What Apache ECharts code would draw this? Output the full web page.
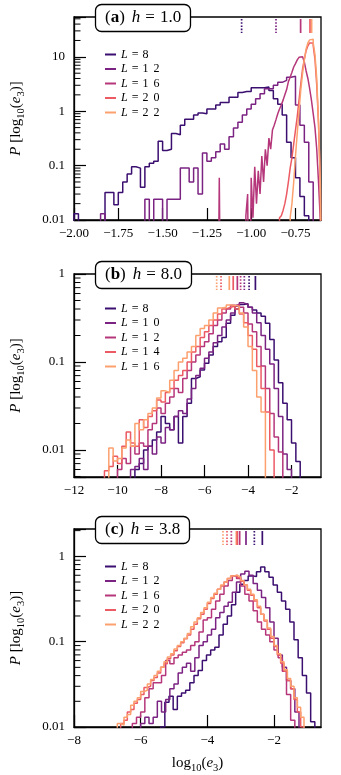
<!DOCTYPE html>
<html><head><meta charset="utf-8">
<script src="https://cdn.jsdelivr.net/npm/echarts@6/dist/echarts.min.js"></script>
<style>html,body{margin:0;padding:0;background:#fff}#c{width:341px;height:775px}</style>
</head><body><div id="c"></div>
<script>
// ---------------- DATA ----------------
// Panel (a) h = 1.0 : histogram of log10(e3); each series = bin start, bin width, bin heights
const aLabels = ['8', '12', '16', '20', '22'];
const aStart = [-2.0, -2.0, -1.19, -0.84, -0.78];
const aWidth = [0.025, 0.025, 0.01, 0.01, 0.01];
const aL8 = [0.013,0,0,0,0,0,0,0.032,0.032,0.019,0.032,0.05,0.07,0.095,0.09,0.04,0.095,0.11,0.12,0.28,0.19,0.2,0.39,0.37,0.55,0.71,0.71,0.85,0.93,0.9,1.1,1.1,1.3,1.45,1.45,1.8,1.8,2.2,2.3,2.3,2.7,2.7,2.7,2.8,2.4,1.7,1.35,0.85,0.27,0.14,0.06,0.027,0.012];
const aL12 = [0,0,0,0,0,0,0.013,0,0,0,0,0,0,0,0,0,0.024,0,0.024,0.024,0,0.024,0.024,0.024,0.09,0.09,0.05,0.09,0.03,0.17,0.12,0.14,0.18,0.25,0.2,0.34,0.49,0.63,0.85,1.1,1.35,1.7,2.1,2.6,2.6,3.0,3.4,3.7,4.2,4.4,1.3,0.55,0.27,0.05];
const aL16 = [0,0.06,0,0,0,0,0,0,0,0,0,0,0,0,0,0,0.012,0.03,0,0.06,0.011,0.095,0.02,0.08,0.03,0.15,0.05,0.2,0.1,0.32,0.2,0.45,0.55,0.7,0.9,1.1,1.3,1.6,2.0,2.5,3.5,4.2,5.2,6.5,7.5,8.8,9.8,10,9.5,8.0,5.5,4.0,2.6,1.6,0.9,0.5,0.2,0.05,0.01];
const aL20 = [0.011,0.012,0.015,0.02,0.03,0.05,0.09,0.14,0.25,0.45,0.8,1.6,3.2,6,9,13,16,18,18,16,9,3,0.6,0.05];
const aL22 = [0.011,0.02,0.05,0.15,0.4,1.0,2.5,5,9,14,18,20.5,21,18,11,4,0.6,0.05];
const aMarkX = [-1.054, -0.86, -0.721, -0.668, -0.659];
const aMarkSer = [0, 1, 2, 3, 4];
const aMarkDot = [1, 1, 0, 0, 0];

// Panel (b) h = 8.0
const bLabels = ['8', '10', '12', '14', '16'];
const bStart = [-9.2, -9.4, -10.0, -10.6, -10.4];
const bWidth = [0.2, 0.2, 0.2, 0.2, 0.2];
const bL8 = [0.006,0.007,0.01,0.011,0.013,0.016,0.024,0.02,0.017,0.024,0.012,0.024,0.034,0.065,0.068,0.081,0.097,0.12,0.15,0.17,0.19,0.275,0.34,0.4,0.45,0.46,0.42,0.39,0.36,0.33,0.275,0.18,0.105,0.058,0.034,0.022,0.012,0.0074];
const bL10 = [0.006,0.0065,0.008,0.006,0.011,0.009,0.014,0.012,0.018,0.017,0.024,0.028,0.026,0.038,0.05,0.07,0.085,0.11,0.13,0.165,0.2,0.25,0.3,0.36,0.43,0.47,0.45,0.42,0.36,0.28,0.2,0.14,0.095,0.05,0.024,0.009,0.006];
const bL12 = [0.006,0.008,0.007,0.011,0.009,0.012,0.011,0.017,0.02,0.03,0.026,0.034,0.04,0.05,0.045,0.065,0.08,0.1,0.12,0.15,0.17,0.21,0.26,0.3,0.36,0.4,0.44,0.45,0.42,0.36,0.27,0.22,0.15,0.09,0.05,0.026,0.014,0.0095];
const bL14 = [0.0058,0.0065,0.0085,0.007,0.011,0.016,0.012,0.011,0.022,0.018,0.024,0.028,0.037,0.035,0.045,0.05,0.062,0.07,0.08,0.1,0.13,0.15,0.19,0.22,0.26,0.3,0.35,0.4,0.42,0.43,0.4,0.35,0.28,0.2,0.14,0.089,0.05,0.027,0.01];
const bL16 = [0.0105,0.0075,0.008,0.0105,0.013,0.011,0.02,0.017,0.022,0.026,0.03,0.039,0.047,0.045,0.062,0.08,0.1,0.11,0.13,0.15,0.2,0.24,0.26,0.3,0.36,0.41,0.42,0.445,0.44,0.43,0.36,0.25,0.15,0.08,0.04,0.027];
const bMarkX = [-5.44, -5.24, -4.86, -4.68, -4.49, -4.34, -4.17, -3.95, -3.66];
const bMarkSer = [4, 3, 4, 3, 2, 2, 1, 0, 0];
const bMarkDot = [1, 1, 0, 0, 0, 1, 1, 1, 0];

// Panel (c) h = 3.8
const cLabels = ['8', '12', '16', '20', '22'];
const cStart = [-5.4, -6.0, -6.25, -6.7, -6.9];
const cWidth = [0.125, 0.125, 0.125, 0.1, 0.1];
const cL8 = [0.01,0.0195,0.023,0.016,0.023,0.025,0.027,0.033,0.04,0.046,0.06,0.07,0.08,0.086,0.12,0.16,0.2,0.27,0.38,0.47,0.52,0.59,0.58,0.66,0.75,0.66,0.57,0.46,0.38,0.3,0.24,0.17,0.105,0.065,0.04,0.025,0.0115];
const cL12 = [0.011,0.013,0.011,0.013,0.02,0.015,0.021,0.028,0.032,0.043,0.05,0.056,0.045,0.065,0.09,0.1,0.12,0.14,0.19,0.22,0.26,0.29,0.38,0.5,0.62,0.67,0.6,0.48,0.4,0.33,0.25,0.17,0.11,0.07,0.05,0.035,0.028,0.015];
const cL16 = [0.011,0.013,0.015,0.022,0.028,0.033,0.033,0.04,0.06,0.055,0.065,0.07,0.075,0.08,0.09,0.1,0.13,0.18,0.19,0.24,0.3,0.36,0.45,0.52,0.59,0.55,0.45,0.36,0.3,0.23,0.17,0.14,0.12,0.1,0.08,0.065,0.045,0.024,0.012];
const cL20 = [0.0095,0.011,0.012,0.015,0.016,0.019,0.021,0.024,0.029,0.03,0.035,0.038,0.043,0.05,0.055,0.063,0.07,0.078,0.088,0.097,0.108,0.12,0.14,0.16,0.185,0.21,0.24,0.28,0.32,0.36,0.41,0.45,0.5,0.55,0.59,0.6,0.56,0.51,0.46,0.4,0.35,0.3,0.25,0.21,0.175,0.14,0.11,0.088,0.07,0.056,0.045,0.035,0.028,0.021,0.015,0.01];
const cL22 = [0.009,0.0095,0.011,0.0105,0.013,0.014,0.018,0.02,0.022,0.026,0.027,0.032,0.036,0.04,0.045,0.05,0.058,0.066,0.072,0.082,0.09,0.1,0.11,0.125,0.15,0.17,0.19,0.22,0.25,0.29,0.33,0.37,0.41,0.46,0.5,0.55,0.59,0.6,0.57,0.52,0.46,0.41,0.36,0.31,0.26,0.21,0.18,0.145,0.115,0.09,0.072,0.058,0.047,0.037,0.03,0.022,0.017,0.013,0.009];
const cMarkX = [-3.53, -3.41, -3.28, -3.13, -3.1, -3.03, -2.84, -2.59, -2.35];
const cMarkSer = [4, 3, 2, 4, 3, 2, 1, 0, 0];
const cMarkDot = [1, 1, 1, 0, 0, 0, 0, 1, 0];

const yTickLabels = ['0.01', '0.1', '1', '10'];

// ---------------- STYLE / LAYOUT ----------------
const COLORS = ['#3b0f70', '#7b2382', '#b5367a', '#ec5a63', '#fca06e'];
const SERIF = "'Liberation Serif', 'DejaVu Serif', serif";
const EPS = 1e-5;

const panels = [
  {key: 'a', tag: 'a', h: '1.0', top: 17, xmin: -2, xmax: -0.606, xint: 0.25, xdec: 2, ymin: 0.01, ymax: 54,
   labels: aLabels, starts: aStart, widths: aWidth, vals: [aL8, aL12, aL16, aL20, aL22],
   markX: aMarkX, markSer: aMarkSer, markDot: aMarkDot, titleTop: 4, legendTop: 43.5},
  {key: 'b', tag: 'b', h: '8.0', top: 274, xmin: -12, xmax: -0.644, xint: 2, xdec: 0, ymin: 0.00493, ymax: 1,
   labels: bLabels, starts: bStart, widths: bWidth, vals: [bL8, bL10, bL12, bL14, bL16],
   markX: bMarkX, markSer: bMarkSer, markDot: bMarkDot, titleTop: 261, legendTop: 297.5},
  {key: 'c', tag: 'c', h: '3.8', top: 529, xmin: -8, xmax: -0.59, xint: 2, xdec: 0, ymin: 0.01, ymax: 2.09,
   labels: cLabels, starts: cStart, widths: cWidth, vals: [cL8, cL12, cL16, cL20, cL22],
   markX: cMarkX, markSer: cMarkSer, markDot: cMarkDot, titleTop: 516, legendTop: 555.5}
];

function hist(start, width, vals) {
  const pts = [[start, EPS]];
  vals.forEach((v, i) => pts.push([+(start + i * width).toFixed(6), v > 0 ? v : EPS]));
  const end = +(start + vals.length * width).toFixed(6);
  const last = vals[vals.length - 1];
  pts.push([end, last > 0 ? last : EPS]);
  pts.push([end, EPS]);
  return pts;
}
function minorTicks(lo, hi) {
  const out = [];
  for (let e = -4; e <= 3; e++) for (let m = 2; m <= 9; m++) {
    const v = m * Math.pow(10, e);
    if (v > lo * 1.0001 && v < hi * 0.9999) out.push(v);
  }
  return out;
}
function yLabel(v) {
  const l = Math.log10(v), r = Math.round(l);
  if (Math.abs(l - r) > 1e-6) return '';
  const idx = r + 2;
  return yTickLabels[idx] !== undefined ? yTickLabels[idx] : '';
}

const grids = [], xAxes = [], yAxes = [], series = [], legends = [], titles = [];
const nameRich = {
  n: {fontFamily: SERIF, fontSize: 15, lineHeight: 22, color: '#000'},
  i: {fontFamily: SERIF, fontSize: 15, fontStyle: 'italic', lineHeight: 22, color: '#000'},
  s: {fontFamily: SERIF, fontSize: 10.5, lineHeight: 22, verticalAlign: 'bottom', color: '#000'}
};

panels.forEach((p, k) => {
  grids.push({left: 74, top: p.top, width: 247, height: 203, show: true, borderColor: '#000', borderWidth: 1.3, backgroundColor: 'transparent'});
  const xmax = p.xmax, dec = p.xdec;
  xAxes.push({
    gridIndex: k, type: 'value', min: p.xmin, max: p.xmax, interval: p.xint,
    axisLine: {show: true, onZero: false, lineStyle: {color: '#000', width: 1.3}},
    axisTick: {show: true, inside: true, length: 12, lineStyle: {color: '#000', width: 1.2}},
    axisLabel: {margin: 7, color: '#000', fontFamily: SERIF, fontSize: 13, showMaxLabel: false,
      formatter: v => (v >= xmax - 1e-9) ? '' : ((v < -1e-9 ? '\u2212' : '') + Math.abs(v).toFixed(dec))},
    splitLine: {show: false},
    name: k === 2 ? '{n|log}{s|10}{n|(}{i|e}{s|3}{n|)}' : '',
    nameLocation: 'middle', nameGap: 25,
    nameTextStyle: {rich: nameRich, fontFamily: SERIF, fontSize: 15, color: '#000'}
  });
  yAxes.push({
    gridIndex: k, type: 'log', logBase: 10, min: p.ymin, max: p.ymax,
    axisLine: {show: true, onZero: false, lineStyle: {color: '#000', width: 1.3}},
    axisTick: {show: true, inside: true, length: 12, lineStyle: {color: '#000', width: 1.2}},
    minorTick: {show: false},
    axisLabel: {margin: 9, color: '#000', fontFamily: SERIF, fontSize: 13, formatter: yLabel, showMinLabel: true, showMaxLabel: true},
    splitLine: {show: false},
    name: '{i|P}{n| [log}{s|10}{n|(}{i|e}{s|3}{n|)]}',
    nameLocation: 'middle', nameRotate: 90, nameGap: 47,
    nameTextStyle: {rich: nameRich, fontFamily: SERIF, fontSize: 15, color: '#000'}
  });
  const names = [];
  p.vals.forEach((vals, j) => {
    const nm = p.key + p.labels[j];
    names.push(nm);
    series.push({
      type: 'line', name: nm, xAxisIndex: k, yAxisIndex: k, step: 'end', symbol: 'none',
      data: hist(p.starts[j], p.widths[j], vals),
      lineStyle: {color: COLORS[j], width: 1.5}, itemStyle: {color: COLORS[j]},
      animation: false, z: 2 + j * 0.01, clip: true
    });
  });
  // minor ticks at 2..9 x 10^n on the left axis
  series.push({
    type: 'custom', xAxisIndex: k, yAxisIndex: k, silent: true, animation: false, z: 5, clip: false,
    data: minorTicks(p.ymin, p.ymax).map(v => [p.xmin, v]),
    renderItem: (params, api) => {
      const pt = api.coord([api.value(0), api.value(1)]);
      return {type: 'line', shape: {x1: pt[0], y1: pt[1], x2: pt[0] + 6.5, y2: pt[1]}, style: {stroke: '#000', lineWidth: 1}};
    }
  });
  // short vertical markers at top of panel
  series.push({
    type: 'custom', xAxisIndex: k, yAxisIndex: k, silent: true, animation: false, z: 4, clip: false,
    data: p.markX.map((x, i) => [x, p.ymax, p.markSer[i], p.markDot[i]]),
    renderItem: (params, api) => {
      const pt = api.coord([api.value(0), api.value(1)]);
      const dotted = api.value(3) === 1;
      return {type: 'line', shape: {x1: pt[0], y1: pt[1] + 2, x2: pt[0], y2: pt[1] + 16},
        style: {stroke: COLORS[api.value(2)], lineWidth: 1.7, lineDash: dotted ? [1.6, 1.6] : null}};
    }
  });
  legends.push({
    left: 100, top: p.legendTop, orient: 'vertical', icon: 'rect', itemWidth: 11, itemHeight: 2, itemGap: 2.5,
    data: names, selectedMode: false,
    formatter: name => {
      const num = name.slice(1);
      let s = '{l|L}{e|=}{d|' + num[0] + '}';
      if (num.length > 1) s += '{d2|' + num.slice(1) + '}';
      return s;
    },
    textStyle: {rich: {
      l: {fontFamily: SERIF, fontStyle: 'italic', fontSize: 12, lineHeight: 11, color: '#000'},
      e: {fontFamily: SERIF, fontSize: 12, lineHeight: 11, padding: [0, 4, 0, 4], color: '#000'},
      d: {fontFamily: SERIF, fontSize: 12, lineHeight: 11, color: '#000'},
      d2: {fontFamily: SERIF, fontSize: 12, lineHeight: 11, padding: [0, 0, 0, 5], color: '#000'}
    }}
  });
  titles.push({
    text: '({b|' + p.tag + '}){g|}{i|h}{e|=}' + p.h,
    left: 95, top: p.titleTop, padding: [5, 10, 5, 10], z: 10,
    borderRadius: 6, borderWidth: 1.3, borderColor: '#000', backgroundColor: '#fff',
    textStyle: {fontFamily: SERIF, fontSize: 17, fontWeight: 'normal', color: '#000', lineHeight: 18,
      rich: {
        b: {fontFamily: SERIF, fontSize: 17, fontWeight: 'bold', color: '#000', lineHeight: 18},
        g: {width: 7},
        i: {fontFamily: SERIF, fontSize: 17, fontStyle: 'italic', color: '#000', lineHeight: 18},
        e: {fontFamily: SERIF, fontSize: 17, color: '#000', lineHeight: 18, padding: [0, 5, 0, 5]}
      }}
  });
});

const chart = echarts.init(document.getElementById('c'), null, {renderer: 'canvas', width: 341, height: 775});
chart.setOption({
  animation: false, backgroundColor: '#fff',
  title: titles, grid: grids, xAxis: xAxes, yAxis: yAxes, legend: legends, series: series
});
</script></body></html>
